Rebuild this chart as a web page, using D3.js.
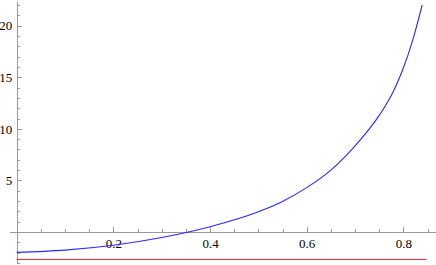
<!DOCTYPE html>
<html>
<head>
<meta charset="utf-8">
<script src="https://cdn.jsdelivr.net/npm/d3@7"></script>
<style>
  body { margin: 0; background: #fff; }
</style>
</head>
<body>
<svg width="436" height="265"></svg>
<script>
// curve
const curveX = [0, 0.1, 0.2, 0.3, 0.4, 0.5, 0.55, 0.6, 0.65, 0.7, 0.75, 0.78, 0.8, 0.82, 0.839];
const curveY = [-1.97, -1.75, -1.28, -0.53, 0.52, 1.97, 2.97, 4.3, 6.0, 8.35, 11.3, 13.7, 15.9, 18.7, 22.0];
// flat red line
const flatX = [0, 0.848];
const flatY = [-2.65, -2.65];
// ticks
const xMajor = [0.2, 0.4, 0.6, 0.8];
const xMinor = d3.range(0, 0.86, 0.05);
const yMajor = [5, 10, 15, 20];
const yMinor = d3.range(-3, 23, 1);

var svg = d3.select('svg');

const x = d3.scaleLinear().domain([-0.0159, 0.8667]).range([9, 435.6]);
const y = d3.scaleLinear().domain([-3, 22.3]).range([263, 1.9]);

const line = d3.line()
  .curve(d3.curveMonotoneX)
  .x(d => x(d[0]))
  .y(d => y(d[1]));

function styleAxis(g) {
  g.attr('font-family', null).attr('font-size', null);
  g.selectAll('path, line').attr('stroke', '#999').attr('shape-rendering', 'crispEdges');
  g.selectAll('text')
    .attr('fill', '#000')
    .style('font-family', '"Liberation Serif", "DejaVu Serif", serif')
    .style('font-size', '13px');
}

// x axis (minor then major)
svg.append('g')
  .attr('transform', 'translate(0,' + y(0) + ')')
  .call(d3.axisBottom(x).tickValues(xMinor).tickSizeInner(-3).tickSizeOuter(0).tickFormat(''))
  .call(g => g.select('.domain').remove())
  .call(styleAxis);

svg.append('g')
  .attr('transform', 'translate(0,' + y(0) + ')')
  .call(d3.axisBottom(x).tickValues(xMajor).tickSizeInner(-5).tickSizeOuter(0).tickPadding(7).tickFormat(d3.format('.1f')))
  .call(styleAxis);

// y axis
svg.append('g')
  .attr('transform', 'translate(' + x(0) + ',0)')
  .call(d3.axisLeft(y).tickValues(yMinor).tickSizeInner(-3).tickSizeOuter(0).tickFormat(''))
  .call(g => g.select('.domain').remove())
  .call(styleAxis);

svg.append('g')
  .attr('transform', 'translate(' + x(0) + ',0)')
  .call(d3.axisLeft(y).tickValues(yMajor).tickSizeInner(-5).tickSizeOuter(0).tickPadding(4.5))
  .call(styleAxis);

svg.append('path')
  .datum(flatX.map((v, i) => [v, flatY[i]]))
  .attr('fill', 'none')
  .attr('stroke', '#c02828')
  .attr('stroke-width', 1)
  .attr('d', line);

svg.append('path')
  .datum(curveX.map((v, i) => [v, curveY[i]]))
  .attr('fill', 'none')
  .attr('stroke', '#2a2aff')
  .attr('stroke-width', 1.1)
  .attr('d', line);
</script>
</body>
</html>
